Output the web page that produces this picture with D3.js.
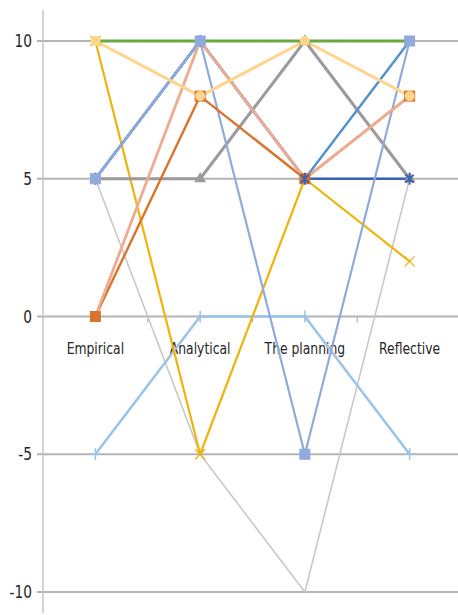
<!DOCTYPE html>
<html>
<head>
<meta charset="utf-8">
<script src="https://cdn.jsdelivr.net/npm/d3@7/dist/d3.min.js"></script>
<style>
  html, body { margin: 0; padding: 0; background: #fff; }
  svg { display: block; }
  .lbl { font-family: "DejaVu Sans Condensed", "DejaVu Sans", sans-serif; fill: #262626; }
</style>
</head>
<body>
<svg id="chart" width="458" height="615"></svg>
<script>
// Learning-style stages along the x axis
const categories = ["Empirical", "Analytical", "The planning", "Reflective"];
const yTicks = [10, 5, 0, -5, -10];

// One array of scores per respondent line
const lightGray  = [5, -5, -10, 5];
const lightBlue  = [-5, 0, 0, -5];
const gold       = [10, -5, 5, 2];
const gray       = [5, 5, 10, 5];
const darkBlue   = [5, 10, 5, 5];
const midBlue    = [5, 10, 5, 10];
const periwinkle = [5, 10, -5, 10];
const darkOrange = [0, 8, 5, 8];
const salmon     = [0, 10, 5, 8];
const peach      = [10, 8, 10, 8];
const green      = [10, 10, 10, 10];

// Drawing order: first entries sit underneath; markerOrder sets marker stacking
const series = [
  { values: lightGray,  color: "#c9c9c9", width: 1.6, marker: null,       markerOrder: 0 },
  { values: lightBlue,  color: "#9dc3e6", width: 2.6, marker: "plus",     markerOrder: 1 },
  { values: gold,       color: "#efb30c", width: 2.2, marker: "x",        markerOrder: 2 },
  { values: gray,       color: "#9b9b9b", width: 3.0, marker: "triangle", markerOrder: 3 },
  { values: darkBlue,   color: "#3a62b2", width: 2.6, marker: "star",     markerOrder: 9 },
  { values: midBlue,    color: "#4f92cf", width: 2.4, marker: null,       markerOrder: 4 },
  { values: periwinkle, color: "#8faadc", width: 2.2, marker: "square",   markerOrder: 10 },
  { values: darkOrange, color: "#d8742c", width: 2.4, marker: "square",   markerOrder: 6 },
  { values: salmon,     color: "#efab90", width: 2.8, marker: null,       markerOrder: 7 },
  { values: peach,      color: "#ffd48c", width: 3.0, marker: "circle",   markerOrder: 8 },
  { values: green,      color: "#6aa842", width: 3.2, marker: null,       markerOrder: 5 }
];

const svg = d3.select("#chart");

const x = d3.scaleBand().domain(categories).range([43, 462]);
const cx = c => x(c) + x.bandwidth() / 2;
const y = d3.scaleLinear().domain([-10, 10]).range([592, 41]);

// Horizontal gridlines with short ticks left of the axis
svg.append("g").selectAll("line").data(yTicks).join("line")
  .attr("x1", 37).attr("x2", 458)
  .attr("y1", d => y(d)).attr("y2", d => y(d))
  .attr("stroke", "#b4b4b4").attr("stroke-width", 1.8);

// Vertical value axis
svg.append("line")
  .attr("x1", 43).attr("x2", 43).attr("y1", 10).attr("y2", 613)
  .attr("stroke", "#c4c4c4").attr("stroke-width", 1.5);

// Category tick marks on the zero line
const bounds = categories.slice(1).map(c => x(c));
svg.append("g").selectAll("line").data(bounds).join("line")
  .attr("x1", d => d).attr("x2", d => d)
  .attr("y1", y(0)).attr("y2", y(0) + 6)
  .attr("stroke", "#b4b4b4").attr("stroke-width", 1.2);

// Value labels
svg.append("g").selectAll("text").data(yTicks).join("text")
  .attr("class", "lbl")
  .attr("transform", d => `translate(32,${y(d) + 6}) scale(0.9,1)`)
  .attr("text-anchor", "end")
  .attr("font-size", 17)
  .text(d => d);

// Category labels just below the zero line (narrowed like the source font)
svg.append("g").selectAll("text").data(categories).join("text")
  .attr("class", "lbl")
  .attr("transform", d => `translate(${cx(d)},${y(0) + 37}) scale(0.86,1)`)
  .attr("text-anchor", "middle")
  .attr("font-size", 16)
  .text(d => d);

// Lines
const line = d3.line()
  .x((d, i) => cx(categories[i]))
  .y(d => y(d));

svg.append("g").selectAll("path").data(series).join("path")
  .attr("d", s => line(s.values))
  .attr("fill", "none")
  .attr("stroke", s => s.color)
  .attr("stroke-width", s => s.width)
  .attr("stroke-linejoin", "round");

// Markers
const mg = svg.append("g");
series.slice().sort((a, b) => a.markerOrder - b.markerOrder).forEach(s => {
  if (!s.marker) return;
  s.values.forEach((v, i) => {
    const px = cx(categories[i]), py = y(v);
    const g = mg.append("g").attr("transform", `translate(${px},${py})`);
    if (s.marker === "square") {
      g.append("rect").attr("x", -5).attr("y", -5).attr("width", 10).attr("height", 10)
        .attr("fill", s.color).attr("stroke", s.color).attr("stroke-width", 1);
    } else if (s.marker === "triangle") {
      g.append("path").attr("d", d3.symbol(d3.symbolTriangle, 60)())
        .attr("fill", s.color);
    } else if (s.marker === "circle") {
      g.append("circle").attr("r", 5).attr("fill", s.color);
    } else if (s.marker === "x") {
      g.append("path").attr("d", "M-5,-5L5,5M-5,5L5,-5")
        .attr("stroke", s.color).attr("stroke-width", 1.3);
    } else if (s.marker === "plus") {
      g.append("path").attr("d", "M0,-6L0,6M-5,0L5,0")
        .attr("stroke", s.color).attr("stroke-width", 1.5);
    } else if (s.marker === "star") {
      g.append("path").attr("d", "M-4,-4L4,4M-4,4L4,-4M0,-6L0,6")
        .attr("stroke", s.color).attr("stroke-width", 1.8);
    }
  });
});
</script>
</body>
</html>
